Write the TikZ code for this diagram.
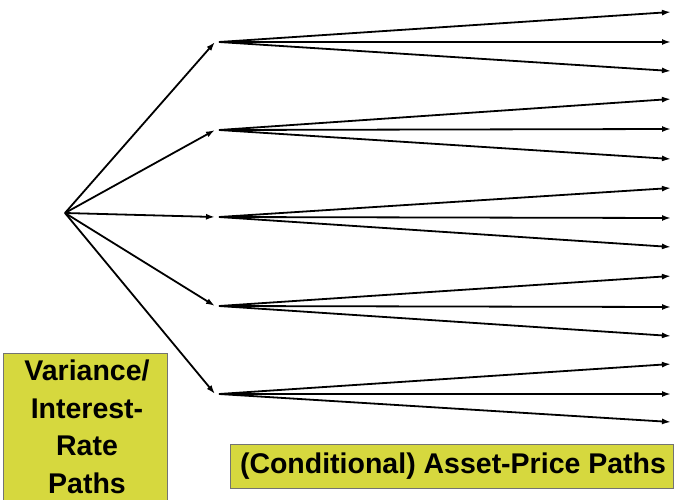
\documentclass[tikz,border=0pt]{standalone}
\usepackage{fontspec}
\setmainfont{Liberation Sans}
\usetikzlibrary{arrows.meta}
\definecolor{boxyellow}{RGB}{214,216,62}
\begin{document}
\begin{tikzpicture}[x=1pt,y=1pt,
  arr/.style={line width=1.8pt,-{Latex[length=9pt,width=6pt]}},
  ybox/.style={fill=boxyellow,draw=black!55,line width=0.8pt},
  lbl/.style={font=\bfseries\fontsize{28.5}{37.5}\selectfont,inner sep=0pt,align=center}]
\useasboundingbox (0,0) rectangle (677,499);
\coordinate (r) at (65,286);
\foreach \i/\y in {1/457,2/369,3/282,4/193,5/105}{
  \coordinate (m\i) at (215,\y);
  \coordinate (s\i) at (219,\y);
}
\foreach \j/\y in {1/487,2/457,3/428,4/400,5/370,6/340,7/311,8/281,9/252,10/223,11/192,12/163,13/135,14/105,15/77}{
  \coordinate (e\j) at (671,\y);
}
\foreach \i in {1,...,5}{\draw[arr] (r) -- (m\i);}
\foreach \i/\a/\b/\c in {1/1/2/3,2/4/5/6,3/7/8/9,4/10/11/12,5/13/14/15}{
  \draw[arr] (s\i) -- (e\a);
  \draw[arr] (s\i) -- (e\b);
  \draw[arr] (s\i) -- (e\c);
}
\draw[ybox] (3,-2) rectangle (167,146);
\node[lbl] (vl) at (87,72) {Variance/\\Interest-\\Rate\\Paths};
\draw[ybox] (230,11) rectangle (673,55);
\node[lbl] (al) at (453,33) {(Conditional) Asset-Price Paths};
\end{tikzpicture}
\end{document}
